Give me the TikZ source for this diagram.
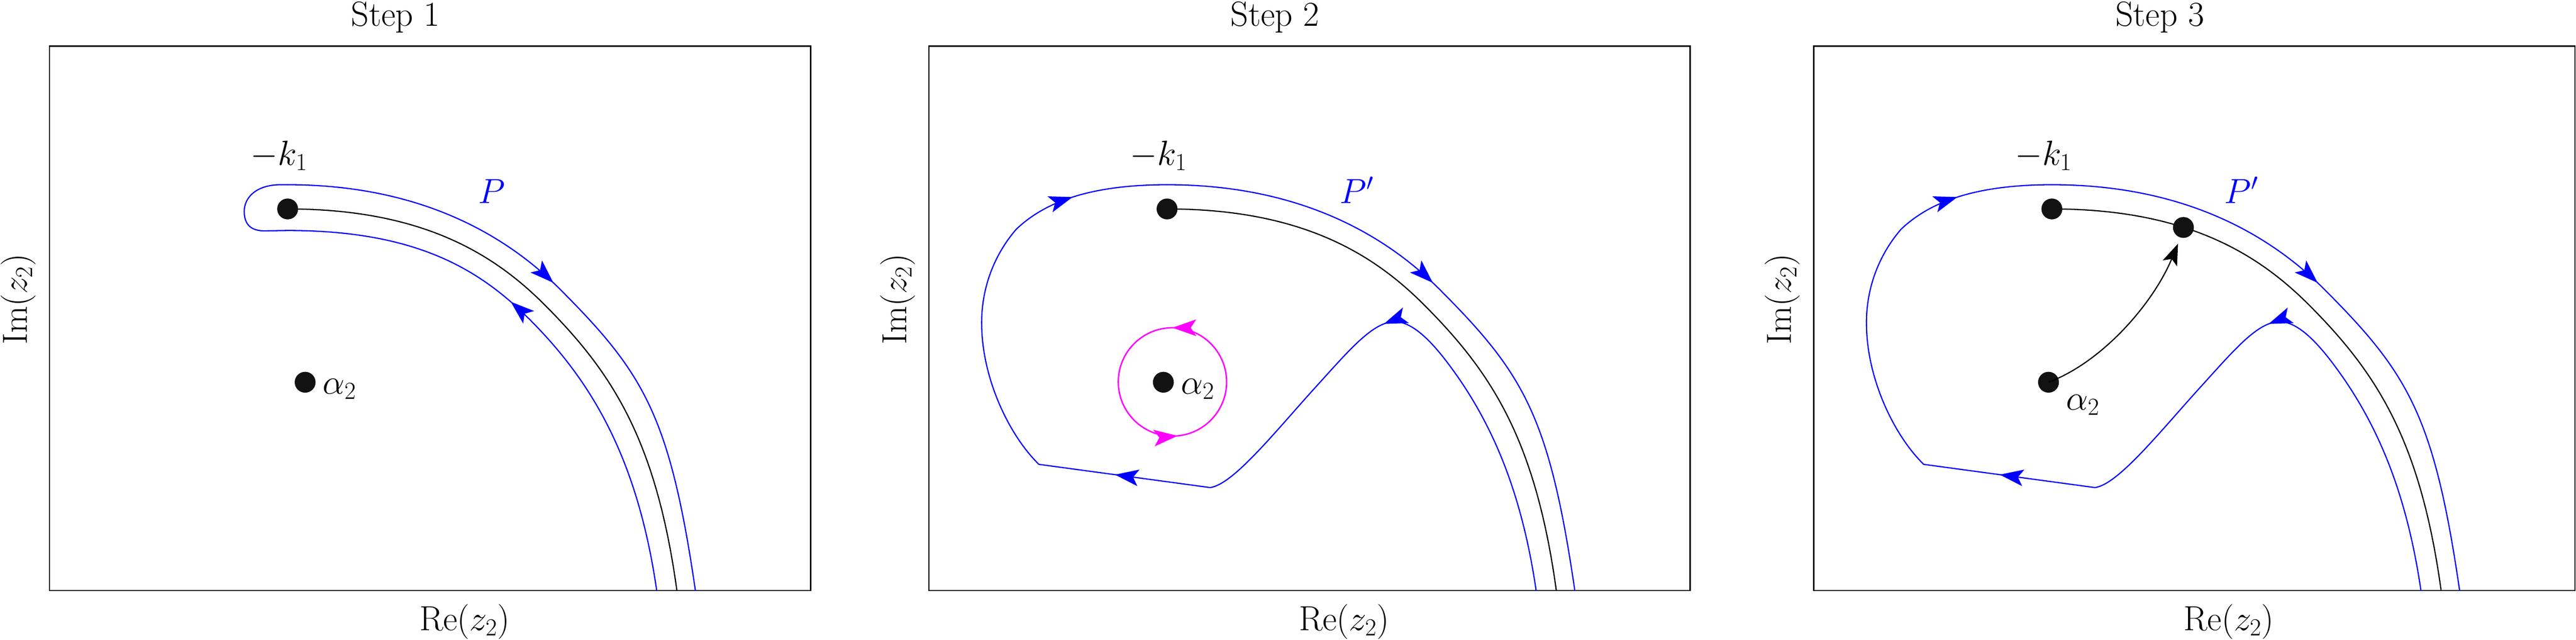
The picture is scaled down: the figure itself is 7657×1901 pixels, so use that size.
\RequirePackage{fix-cm}
\documentclass[tikz,border=0pt]{standalone}
\usetikzlibrary{arrows.meta,decorations.markings}
\definecolor{pblue}{RGB}{0,0,255}
\definecolor{pmag}{RGB}{255,0,255}
\tikzset{
  lbl/.style={font=\fontsize{29.5}{35}\selectfont, inner sep=0pt, anchor=base},
  frame/.style={draw=black, line width=1.2pt},
  blk/.style={draw=black, line width=1pt},
  bl/.style={draw=pblue, line width=1pt, line cap=round, line join=round},
  mg/.style={draw=pmag, line width=1.2pt},
  dotn/.style={circle, fill=black!93, minimum size=0.62cm, inner sep=0pt},
  arr/.style={postaction={decorate}, decoration={markings, mark=at position #1 with {\arrow{Stealth[length=20pt,width=14pt,inset=4.5pt]}}}},
  circarr/.style={postaction={decorate}, decoration={markings,
     mark=at position 0.25 with {\arrow{Stealth[length=20pt,width=14pt,inset=4.5pt]}},
     mark=at position 0.765 with {\arrow{Stealth[length=20pt,width=14pt,inset=4.5pt]}}}},
}
\begin{document}
\begin{tikzpicture}[x=0.01cm,y=-0.01cm]
\useasboundingbox (0,0) rectangle (7657,1901);

% ---------------- Panel 1 ----------------
\begin{scope}[shift={(147,0)}]
\node[lbl] (t1) at (1029,77) {Step 1};
\node[lbl] (re1) at (1234,1874) {$\mathrm{Re}(z_2)$};
\node[lbl, rotate=90] (im1) at (-67,889) {$\mathrm{Im}(z_2)$};
\draw[frame] (0,137) rectangle (2263,1755);
\coordinate (e1) at (1865,1755);
\draw[blk] (708,621) .. controls (1108,621) and (1321,755) .. (1471,905) .. controls (1671,1105) and (1803,1305) .. (e1);
\draw[bl, arr=0.58] (1805,1755) .. controls (1747,1355) and (1607,1129) .. (1427,949) .. controls (1277,799) and (1088,685) .. (708,685);
\draw[bl] (708,685) -- (644,686) .. controls (592,688) and (579,660) .. (579,628) .. controls (579,590) and (610,552) .. (680,549) -- (708,549);
\draw[bl, arr=0.455] (708,549) .. controls (1128,549) and (1377,719) .. (1517,859) .. controls (1767,1109) and (1844,1235) .. (1920,1755);
\node[dotn] (k1a) at (708,621) {};
\node[dotn] (a2a) at (760,1136) {};
\node[lbl] (k1la) at (683,491) {$-k_1$};
\node[lbl] (a2la) at (862,1171) {$\alpha_2$};
\node[lbl, text=pblue] (pla) at (1315,604) {$P$};
\end{scope}

% ---------------- Panel 2 ----------------
\begin{scope}[shift={(2761,0)}]
\node[lbl] (t2) at (1029,77) {Step 2};
\node[lbl] (re2) at (1234,1874) {$\mathrm{Re}(z_2)$};
\node[lbl, rotate=90] (im2) at (-67,889) {$\mathrm{Im}(z_2)$};
\draw[frame] (0,137) rectangle (2263,1755);
\coordinate (e2) at (1865,1755);
\draw[blk] (708,621) .. controls (1108,621) and (1321,755) .. (1471,905) .. controls (1671,1105) and (1803,1305) .. (e2);
\draw[bl] (1805,1755) .. controls (1764,1475) and (1683,1282) .. (1577,1127) .. controls (1520,1045) and (1450,956) .. (1385,956);
\draw[bl, arr=0.045] (1385,956) .. controls (1320,956) and (1250,1040) .. (1150,1150) .. controls (1030,1282) and (905,1440) .. (836,1449);
\draw[bl, arr=0.556] (836,1449) -- (327,1380);
\draw[bl] (327,1380) .. controls (240,1295) and (160,1130) .. (157,970) .. controls (154,850) and (200,750) .. (260,681);
\draw[bl, arr=0.406] (260,681) .. controls (330,615) and (450,549) .. (708,549);
\draw[bl, arr=0.455] (708,549) .. controls (1128,549) and (1377,719) .. (1517,859) .. controls (1767,1109) and (1844,1235) .. (1920,1755);
\draw[mg, circarr] (885,1135) arc[start angle=0, end angle=-360, radius=161];
\node[dotn] (k1b) at (708,621) {};
\node[dotn] (a2b) at (697,1136) {};
\node[lbl] (k1lb) at (683,491) {$-k_1$};
\node[lbl] (a2lb) at (799,1171) {$\alpha_2$};
\node[lbl, text=pblue] (plb) at (1272,604) {$P'$};
\end{scope}

% ---------------- Panel 3 ----------------
\begin{scope}[shift={(5391,0)}]
\node[lbl] (t3) at (1029,77) {Step 3};
\node[lbl] (re3) at (1234,1874) {$\mathrm{Re}(z_2)$};
\node[lbl, rotate=90] (im3) at (-67,889) {$\mathrm{Im}(z_2)$};
\draw[frame] (0,137) rectangle (2263,1755);
\coordinate (e3) at (1865,1755);
\draw[blk] (708,621) .. controls (1108,621) and (1321,755) .. (1471,905) .. controls (1671,1105) and (1803,1305) .. (e3);
\draw[bl] (1805,1755) .. controls (1764,1475) and (1683,1282) .. (1577,1127) .. controls (1520,1045) and (1450,956) .. (1385,956);
\draw[bl, arr=0.045] (1385,956) .. controls (1320,956) and (1250,1040) .. (1150,1150) .. controls (1030,1282) and (905,1440) .. (836,1449);
\draw[bl, arr=0.556] (836,1449) -- (327,1380);
\draw[bl] (327,1380) .. controls (240,1295) and (160,1130) .. (157,970) .. controls (154,850) and (200,750) .. (260,681);
\draw[bl, arr=0.406] (260,681) .. controls (330,615) and (450,549) .. (708,549);
\draw[bl, arr=0.455] (708,549) .. controls (1128,549) and (1377,719) .. (1517,859) .. controls (1767,1109) and (1844,1235) .. (1920,1755);
\node[dotn] (k1c) at (708,621) {};
\node[dotn] (a2c) at (698,1136) {};
\node[dotn] (mc) at (1099,676) {};
\coordinate (tipc) at (1083,724);
\draw[blk, -{Stealth[length=18pt,width=13pt,inset=4pt]}] (a2c.center) .. controls (860,1075) and (1010,900) .. (tipc);
\node[lbl] (k1lc) at (683,491) {$-k_1$};
\node[lbl] (a2lc) at (800,1218) {$\alpha_2$};
\node[lbl, text=pblue] (plc) at (1272,604) {$P'$};
\end{scope}
\end{tikzpicture}
\end{document}
